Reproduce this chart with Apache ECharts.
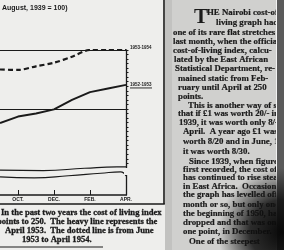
<!doctype html>
<html>
    <head>
        <meta charset="utf-8">
        <style>
            html, body { margin: 0; padding: 0; background: #ededeb; }
            #main { width: 284px; height: 250px; }
        </style>
    </head>
    <body>
        <div id="main"></div>
        <script src="https://cdn.jsdelivr.net/npm/echarts@6/dist/echarts.min.js"></script>
        <script>
            // months counted from June (0) ... April (10); only Sep onward is visible
            var months = [3, 4, 5, 6, 7, 8, 9, 10];
            var heavy52 = [233.9, 235.3, 236.0, 236.9, 239.0, 240.7, 241.5, 242.3];   // June 1952 - April 1953
            var dotted53 = [245.7, 245.6, 246.4, 247.2, 248.5, 250, 250, 250];        // June 1953 - April 1954
            var levelLines = [250, 237];

            // axis break marks
            var breakUpper = [[3, 223.5], [5.4, 223.4], [7.7, 223.9], [9.5, 224.2], [10, 224.2]];
            var breakLower = [[3, 222.0], [4.9, 221.8], [6.8, 222.25], [8.6, 222.8], [9.7, 223.1], [10, 222.2]];

            var tickMonths = [4, 6, 8, 10];
            var tickLabels = ['OCT.', 'DEC.', 'FEB.', 'APR.'];
            var seriesNames = ['1952-1953', '1953-1954'];

            var title = 'August, 1939 = 100)';
            var caption = [
                'In the past two years the cost of living index',
                'points to 250.  The heavy line represents the',
                'April 1953.  The dotted line is from June',
                '1953 to April 1954.'
            ];
            var article = [
                'HE Nairobi cost-of-',
                'living graph had',
                'one of its rare flat stretches',
                'last month, when the official',
                'cost-of-living index, calcu-',
                'lated by the East African',
                'Statistical Department, re-',
                'mained static from Feb-',
                'ruary until April at 250',
                'points.',
                'This is another way of saying',
                'that if \u00a31 was worth 20/- in',
                '1939, it was worth only 8/- in',
                'April.  A year ago \u00a31 was',
                'worth 8/20 and in June, 1953,',
                'it was worth 8/30.',
                'Since 1939, when figures were',
                'first recorded, the cost of living',
                'has continued to rise steadily',
                'in East Africa.  Occasionally',
                'the graph has levelled off for a',
                'month or so, but only once, at',
                'the beginning of 1950, has it',
                'dropped and that was only',
                'one point, in December.',
                'One of the steepest'
            ];
            var articleX = [207, 216, 173, 173, 173, 174, 175, 178, 178, 178, 188, 178, 179,
                            183, 183, 183, 189, 183, 183, 183, 183, 183, 183, 183, 183, 189];
            var articleY = [13, 23, 33, 42, 51, 60, 69, 79, 88, 97, 106, 114, 123,
                            132, 142, 152, 162, 170, 178, 187, 195, 205, 214, 223, 232, 242];

            var ink = '#1a1a1a';
            var bg = '#eeeeec';
            var yTicks = [];
            for (var t = 225; t <= 250; t++) yTicks.push(t);

            function pairs(vals) {
                return months.map(function (m, i) { return [m, vals[i]]; });
            }

            var graphic = [];
            // article column
            graphic.push({ type: 'rect', shape: { x: 165, y: 0, width: 112, height: 250 }, style: { fill: '#d0d0ce' }, z: -10 });
            graphic.push({ type: 'rect', shape: { x: 165, y: 0, width: 7, height: 250 }, style: { fill: '#c2c2c0' }, z: -9 });
            graphic.push({ type: 'text', x: 194, y: 7, style: { text: 'T', font: 'bold 21px "Liberation Serif"', fill: ink }, z: 5 });
            article.forEach(function (line, i) {
                graphic.push({
                    type: 'text', x: articleX[i], y: articleY[i], scaleX: 0.98,
                    style: { text: line, font: 'bold 9px "Liberation Serif"', fill: ink, stroke: ink, lineWidth: 0.2, verticalAlign: 'middle' },
                    z: 5
                });
            });
            // right edge and shadow
            graphic.push({ type: 'rect', shape: { x: 276, y: 0, width: 1.2, height: 250 }, style: { fill: '#f2f2f2' }, z: 8 });
            graphic.push({ type: 'rect', shape: { x: 277, y: 0, width: 7, height: 250 }, style: { fill: '#5a5a5a' }, z: 8 });
            graphic.push({
                type: 'circle', shape: { cx: 282, cy: 232, r: 64 },
                style: {
                    fill: {
                        type: 'radial', x: 0.5, y: 0.5, r: 0.5,
                        colorStops: [{ offset: 0, color: 'rgba(8,8,8,1)' }, { offset: 0.5, color: 'rgba(15,15,15,0.85)' }, { offset: 1, color: 'rgba(20,20,20,0)' }]
                    }
                },
                z: 9
            });
            // chart frame
            graphic.push({ type: 'line', shape: { x1: 164, y1: 0, x2: 164, y2: 204 }, style: { stroke: ink, lineWidth: 1.6 }, z: 6 });
            graphic.push({ type: 'line', shape: { x1: 0, y1: 204, x2: 164.8, y2: 204 }, style: { stroke: ink, lineWidth: 1.6 }, z: 6 });
            // break gap on the right axis
            graphic.push({ type: 'rect', shape: { x: 124, y: 168, width: 4, height: 7 }, style: { fill: bg }, z: 100 });
            // underline of the 1952-1953 label
            graphic.push({ type: 'rect', shape: { x: 130, y: 87.5, width: 22, height: 0.9 }, style: { fill: ink }, z: 6 });
            // title and caption
            graphic.push({ type: 'text', x: 2, y: 8, style: { text: title, font: 'bold 7px "Liberation Sans"', fill: ink, verticalAlign: 'middle' }, z: 5 });
            var capX = [1, -3, 5, 22];
            var capY = [213, 222, 231, 240];
            caption.forEach(function (line, i) {
                graphic.push({
                    type: 'text', x: capX[i], y: capY[i],
                    style: { text: line, font: 'bold 8.6px "Liberation Serif"', fill: ink, stroke: ink, lineWidth: 0.3, verticalAlign: 'middle' },
                    z: 5
                });
            });
            graphic.push({ type: 'line', shape: { x1: 0, y1: 247, x2: 103, y2: 247 }, style: { stroke: ink, lineWidth: 1 }, z: 5 });

            var chart = echarts.init(document.getElementById('main'));
            chart.setOption({
                animation: false,
                backgroundColor: bg,
                grid: { left: 0, right: 158, top: 50, bottom: 55 },
                xAxis: {
                    type: 'value', min: 3, max: 10,
                    axisLine: { lineStyle: { color: ink, width: 1.5 } },
                    axisTick: { customValues: tickMonths, inside: true, length: 5, lineStyle: { color: ink, width: 1 } },
                    axisLabel: {
                        customValues: tickMonths,
                        formatter: function (v) { return tickLabels[tickMonths.indexOf(v)]; },
                        fontSize: 5, fontWeight: 'bold', color: ink, margin: 2,
                        fontFamily: 'Liberation Sans'
                    },
                    splitLine: { show: false }
                },
                yAxis: {
                    type: 'value', position: 'right', min: 218, max: 250,
                    axisLine: { show: true, lineStyle: { color: ink, width: 1.3 } },
                    axisTick: { show: true, customValues: yTicks, length: 2.5, lineStyle: { color: ink, width: 1 } },
                    axisLabel: { show: false },
                    splitLine: { show: false }
                },
                series: [{
                    name: seriesNames[0],
                    type: 'line',
                    data: pairs(heavy52),
                    symbol: 'none',
                    lineStyle: { color: ink, width: 2 },
                    endLabel: { show: true, formatter: seriesNames[0], distance: 4, fontSize: 4.5, fontWeight: 'bold', color: ink, fontFamily: 'Liberation Sans' },
                    markLine: {
                        silent: true, symbol: 'none', label: { show: false },
                        lineStyle: { type: 'solid', width: 1, color: ink },
                        data: levelLines.map(function (v) { return { yAxis: v }; })
                    }
                }, {
                    name: seriesNames[1],
                    type: 'line',
                    data: pairs(dotted53),
                    smooth: 0.3,
                    symbol: 'none',
                    lineStyle: { color: ink, width: 2.2, type: [5, 3] },
                    endLabel: { show: true, formatter: seriesNames[1], distance: 4, fontSize: 4.5, fontWeight: 'bold', color: ink, fontFamily: 'Liberation Sans', offset: [0, -2] }
                }, {
                    type: 'line', data: breakUpper, smooth: true, symbol: 'none',
                    lineStyle: { color: ink, width: 1.2 }
                }, {
                    type: 'line', data: breakLower, smooth: true, symbol: 'none',
                    lineStyle: { color: ink, width: 1.2 }
                }],
                graphic: graphic
            });
        </script>
    </body>
</html>
